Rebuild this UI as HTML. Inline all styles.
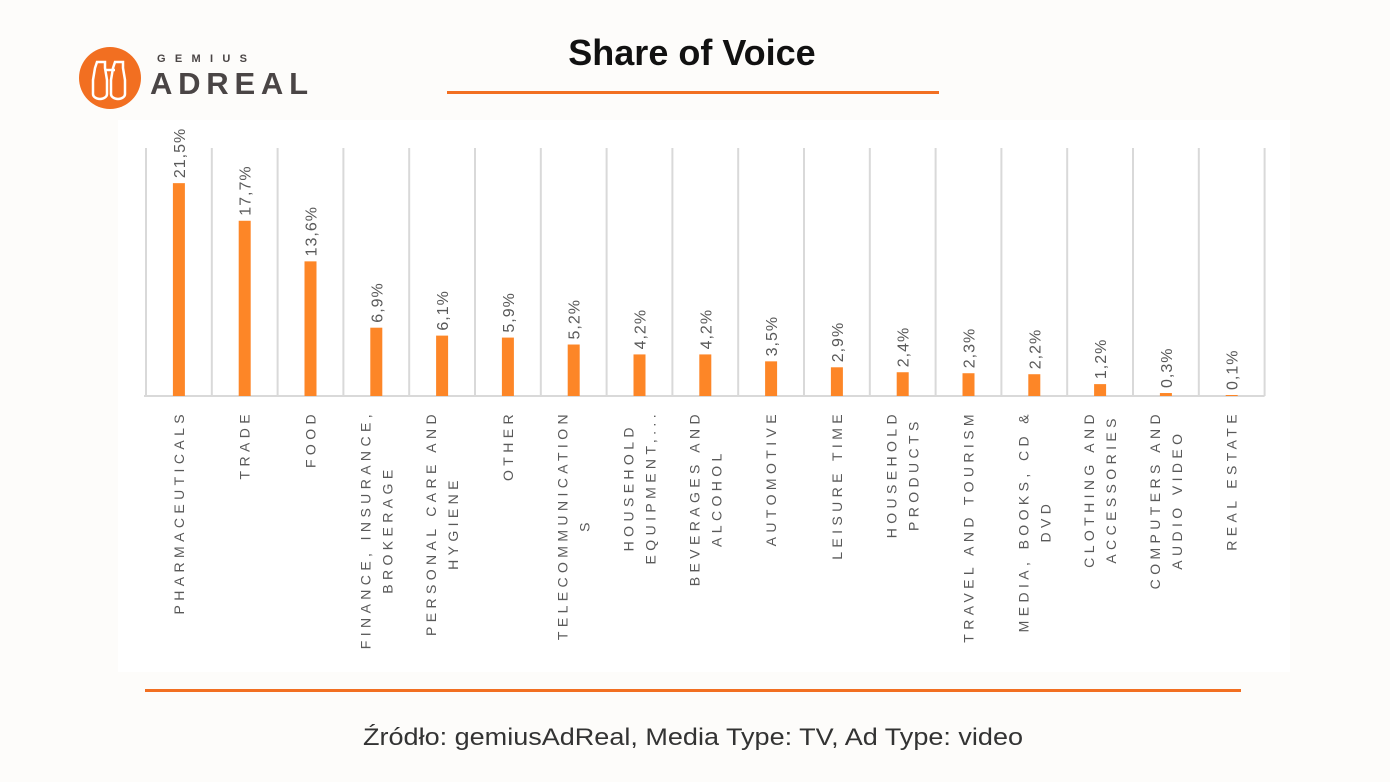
<!DOCTYPE html>
<html><head><meta charset="utf-8"><style>
html,body{margin:0;padding:0;background:#fdfcfa;}
body{width:1390px;height:782px;overflow:hidden;position:relative;font-family:"Liberation Sans",sans-serif;}
</style></head><body>
<svg width="1390" height="782" viewBox="0 0 1390 782" xmlns="http://www.w3.org/2000/svg" style="position:absolute;left:0;top:0">
<rect x="0" y="0" width="1390" height="782" fill="#fdfcfa"/>
<rect x="118" y="120" width="1172" height="552" fill="#ffffff"/>
<circle cx="110" cy="78" r="31" fill="#f26f21"/>
<g fill="none" stroke="#fff" stroke-width="2.5">
<path d="M97 62 h8 v6 l2 12 v14 a7 5 0 0 1 -14 0 v-14 l2 -12z"/>
<path d="M115 62 h8 v6 l2 12 v14 a7 5 0 0 1 -14 0 v-14 l2 -12z"/>
<path d="M105 70 h10"/>
</g>
<text x="157" y="62" font-size="11" font-weight="bold" fill="#4a4545" textLength="90" lengthAdjust="spacing">GEMIUS</text>
<text x="150" y="94" font-size="31" fill="#4a4545" font-weight="bold" textLength="158" lengthAdjust="spacing">ADREAL</text>
<text x="692" y="65" font-size="36" font-weight="bold" fill="#111" text-anchor="middle">Share of Voice</text>
<rect x="447" y="91" width="492" height="3" fill="#f26f21"/>
<rect x="145" y="689" width="1096" height="3" fill="#f26f21"/>
<text x="363" y="745" font-size="24" fill="#333" textLength="660" lengthAdjust="spacingAndGlyphs">Źródło: gemiusAdReal, Media Type: TV, Ad Type: video</text>
<g id="chart"></g>
</svg>
<script>
(function(){
var NS="http://www.w3.org/2000/svg";
var g=document.getElementById("chart");
var data=[["PHARMACEUTICALS"],["TRADE"],["FOOD"],["FINANCE, INSURANCE,","BROKERAGE"],["PERSONAL CARE AND","HYGIENE"],["OTHER"],["TELECOMMUNICATION","S"],["HOUSEHOLD","EQUIPMENT,..."],["BEVERAGES AND","ALCOHOL"],["AUTOMOTIVE"],["LEISURE TIME"],["HOUSEHOLD","PRODUCTS"],["TRAVEL AND TOURISM"],["MEDIA, BOOKS, CD &","DVD"],["CLOTHING AND","ACCESSORIES"],["COMPUTERS AND","AUDIO VIDEO"],["REAL ESTATE"]];
var vals=[21.5,17.7,13.6,6.9,6.1,5.9,5.2,4.2,4.2,3.5,2.9,2.4,2.3,2.2,1.2,0.3,0.1];
var x0=146,step=65.8,base=396,sc=9.9;
function el(t,a,txt){var e=document.createElementNS(NS,t);for(var k in a)e.setAttribute(k,a[k]);if(txt!=null)e.textContent=txt;g.appendChild(e);return e;}
for(var i=0;i<=17;i++){el("line",{x1:x0+i*step,y1:148,x2:x0+i*step,y2:base,stroke:"#d9d9d9","stroke-width":2});}
el("line",{x1:x0-2,y1:base,x2:x0+17*step,y2:base,stroke:"#d9d9d9","stroke-width":2});
for(var i=0;i<17;i++){
 var cx=x0+step*(i+0.5),h=vals[i]*sc,bt=base-h;
 el("rect",{x:cx-6,y:bt,width:12,height:h,fill:"#fd8627"});
 var vy=bt-5;
 el("text",{x:0,y:0,transform:"translate("+(cx+6)+","+vy+") rotate(-90)","font-size":16,fill:"#595959","letter-spacing":"1"},vals[i].toFixed(1).replace(".",",")+"%");
 var lines=data[i],n=lines.length,ts=[],mx=0;
 for(var j=0;j<n;j++){
  var lx=cx+5+(j-(n-1)/2)*22;
  var t=el("text",{x:0,y:0,"font-size":14,fill:"#595959","letter-spacing":"4.4","text-anchor":"middle"},lines[j]);
  ts.push([t,lx]);var w=t.getComputedTextLength();if(w>mx)mx=w;
 }
 var cy=410+mx/2;
 ts.forEach(function(p){p[0].setAttribute("transform","translate("+p[1]+","+cy+") rotate(-90)");});
}
})();
</script>
</body></html>
